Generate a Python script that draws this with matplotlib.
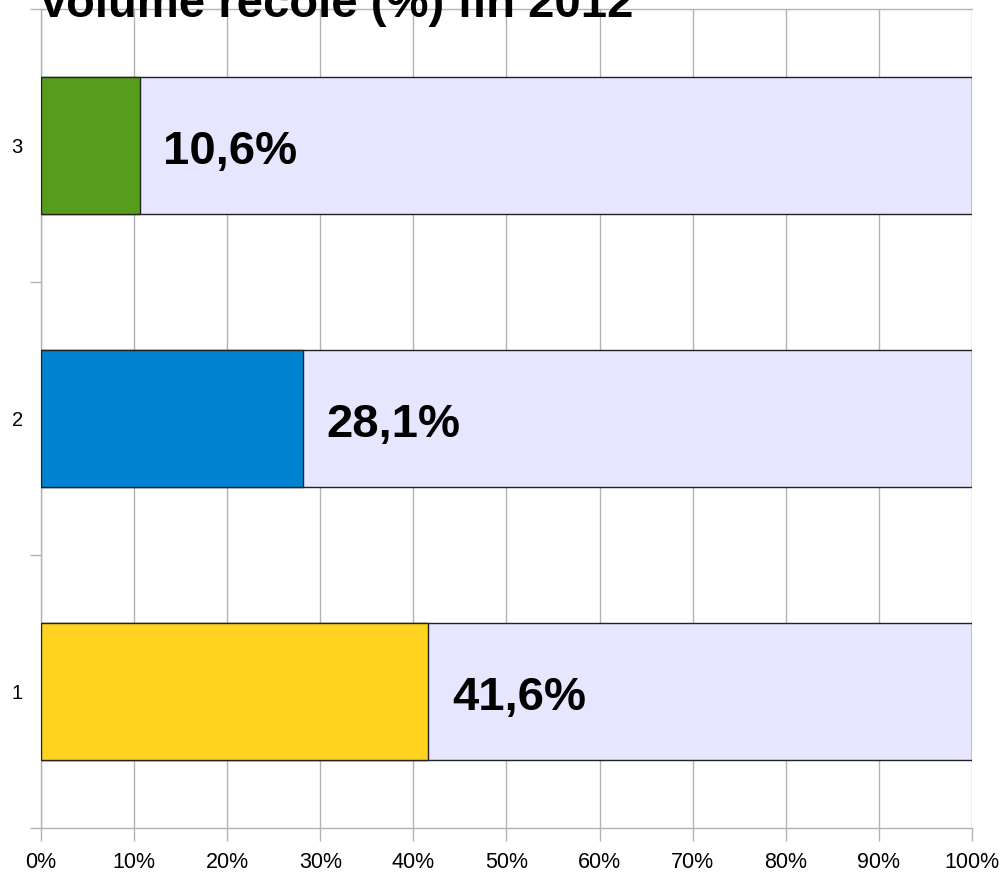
import matplotlib
matplotlib.use("Agg")
import matplotlib.pyplot as plt
from matplotlib.ticker import FixedLocator, FuncFormatter

plt.rcParams['font.family'] = ['Liberation Sans', 'DejaVu Sans']

# Data
categories = [1, 2, 3]
values = [41.6, 28.1, 10.6]
value_labels = ["41,6%", "28,1%", "10,6%"]
totals = [100, 100, 100]
bar_colors = ["#FFD320", "#0084D1", "#579D1C"]
title = "Volume récolé (%) fin 2012"
x_ticks = [0, 10, 20, 30, 40, 50, 60, 70, 80, 90, 100]

W, H = 1004, 873
fig = plt.figure(figsize=(W / 100, H / 100), dpi=100)
ax = fig.add_axes([41 / W, (H - 828) / H, (972 - 41) / W, (828 - 9) / H])

grid_c = "#b3b3b3"
ax.barh(categories, totals, height=0.5, color="#E6E6FF", edgecolor="#222222",
        linewidth=1.0, zorder=3)
ax.barh(categories, values, height=0.5, color=bar_colors, edgecolor="#222222",
        linewidth=1.0, zorder=4)

for c, v, lab in zip(categories, values, value_labels):
    ax.annotate(lab, xy=(v, c), xytext=(17, -5), textcoords="offset points",
                ha="left", va="center", fontsize=34, fontweight="bold",
                color="black", zorder=5)

ax.set_xlim(0, 100)
ax.set_ylim(0.5, 3.5)
ax.xaxis.set_major_locator(FixedLocator(x_ticks))
ax.xaxis.set_major_formatter(FuncFormatter(lambda x, p: f"{int(x)}%"))
ax.grid(axis="x", color=grid_c, linewidth=1.0, zorder=0)
ax.set_axisbelow(True)

ax.yaxis.set_major_locator(FixedLocator([0.5, 1.5, 2.5, 3.5]))
ax.yaxis.set_major_formatter(FuncFormatter(lambda y, p: ""))
ax.yaxis.set_minor_locator(FixedLocator(categories))
ax.yaxis.set_minor_formatter(FuncFormatter(lambda y, p: f"{int(y)}"))
ax.tick_params(axis="y", which="major", length=8, width=1, color=grid_c, direction="out")
ax.tick_params(axis="y", which="minor", length=0, pad=13, labelsize=14.5)
ax.tick_params(axis="x", which="major", length=9, width=1, color=grid_c,
               direction="out", labelsize=15.5, pad=8)

for s in ["left", "bottom", "top"]:
    ax.spines[s].set_color(grid_c)
    ax.spines[s].set_linewidth(1.0)
ax.spines["right"].set_visible(False)

fig.text(38 / W, 1 - 17 / H, title, ha="left", va="baseline",
         fontsize=34, fontweight="bold", color="black")

fig.savefig("out.png", dpi=100)
